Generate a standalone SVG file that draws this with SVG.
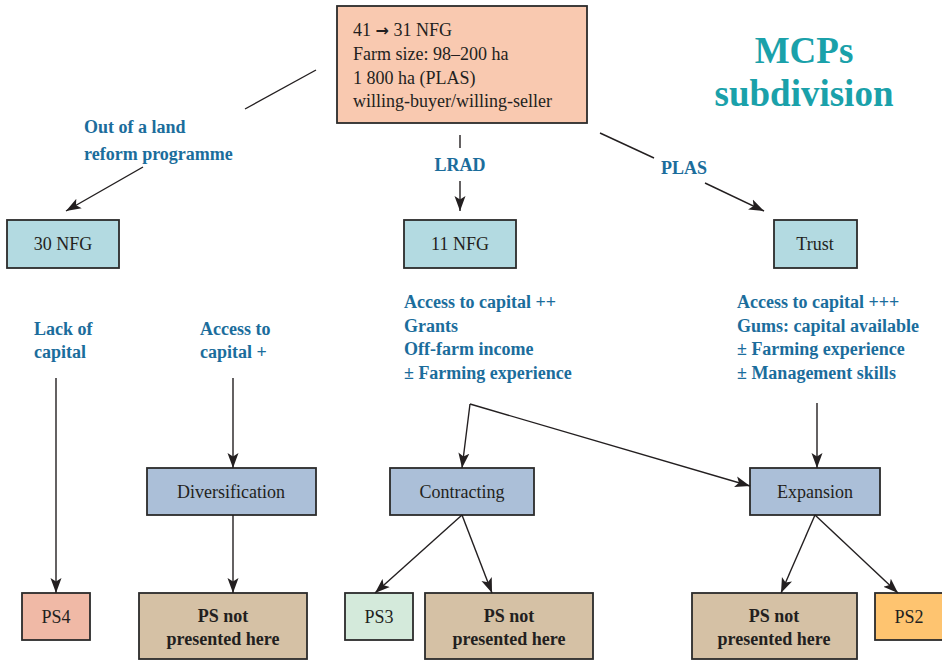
<svg xmlns="http://www.w3.org/2000/svg" width="942" height="661" viewBox="0 0 942 661">
<defs>
<marker id="ah" markerUnits="userSpaceOnUse" markerWidth="16" markerHeight="12" refX="15" refY="6" orient="auto">
<path d="M0,0.5 L15,6 L0,11.5 L3.5,6 Z" fill="#231f20"/>
</marker>
<style>
.box{stroke:#2b2b2b;stroke-width:1.8}
.bt{font-family:"Liberation Serif",serif;font-size:18px;fill:#231f20;text-anchor:middle}
.bb{font-family:"Liberation Serif",serif;font-size:18px;font-weight:bold;fill:#231f20;text-anchor:middle}
.lb{font-family:"Liberation Serif",serif;font-size:18px;font-weight:bold;fill:#1b6d9c}
.cn line{stroke:#231f20;stroke-width:1.4}
.arr{marker-end:url(#ah)}
</style>
</defs>
<rect width="942" height="661" fill="#ffffff"/>

<g id="title">
<text x="804" y="63" font-family="Liberation Serif,serif" font-size="37" font-weight="bold" fill="#1aa1aa" text-anchor="middle">MCPs</text>
<text x="804" y="106" font-family="Liberation Serif,serif" font-size="37" font-weight="bold" fill="#1aa1aa" text-anchor="middle">subdivision</text>
</g>

<g id="top">
<rect class="box" x="337" y="6" width="250" height="117" fill="#f9c9b0"/>
<text font-family="Liberation Serif,serif" font-size="18" fill="#231f20">
<tspan x="353" y="36">41 <tspan font-family="DejaVu Sans,sans-serif" font-weight="bold" font-size="16">→</tspan> 31 NFG</tspan>
<tspan x="353" y="60">Farm size: 98–200 ha</tspan>
<tspan x="353" y="84">1 800 ha (PLAS)</tspan>
<tspan x="353" y="107">willing-buyer/willing-seller</tspan>
</text>
</g>

<g id="lbl-out"><text class="lb"><tspan x="84" y="133">Out of a land</tspan><tspan x="84" y="160">reform programme</tspan></text></g>
<g id="lbl-lrad"><text class="lb" x="460" y="171" text-anchor="middle">LRAD</text></g>
<g id="lbl-plas"><text class="lb" x="684" y="174" text-anchor="middle">PLAS</text></g>

<g id="n30"><rect class="box" x="7" y="220" width="112" height="48" fill="#b3dae1"/><text class="bt" x="63" y="250">30 NFG</text></g>
<g id="n11"><rect class="box" x="404" y="220" width="112" height="48" fill="#b3dae1"/><text class="bt" x="460" y="250">11 NFG</text></g>
<g id="trust"><rect class="box" x="774" y="220" width="83" height="48" fill="#b3dae1"/><text class="bt" x="815" y="250">Trust</text></g>

<g id="lbl-lack"><text class="lb"><tspan x="34" y="335">Lack of</tspan><tspan x="34" y="358">capital</tspan></text></g>
<g id="lbl-acc1"><text class="lb"><tspan x="200" y="335">Access to</tspan><tspan x="200" y="358">capital +</tspan></text></g>
<g id="lbl-acc2"><text class="lb"><tspan x="404" y="308">Access to capital ++</tspan><tspan x="404" y="332">Grants</tspan><tspan x="404" y="355">Off-farm income</tspan><tspan x="404" y="379">± Farming experience</tspan></text></g>
<g id="lbl-acc3"><text class="lb"><tspan x="737" y="308">Access to capital +++</tspan><tspan x="737" y="332">Gums: capital available</tspan><tspan x="737" y="355">± Farming experience</tspan><tspan x="737" y="379">± Management skills</tspan></text></g>

<g id="div"><rect class="box" x="147" y="468" width="169" height="47" fill="#abbfd8"/><text class="bt" x="231" y="498">Diversification</text></g>
<g id="con"><rect class="box" x="390" y="468" width="144" height="47" fill="#abbfd8"/><text class="bt" x="462" y="498">Contracting</text></g>
<g id="exp"><rect class="box" x="750" y="468" width="130" height="47" fill="#abbfd8"/><text class="bt" x="815" y="498">Expansion</text></g>

<g id="ps4"><rect class="box" x="22" y="593" width="68" height="47" fill="#f0b9a6"/><text class="bt" x="56" y="623">PS4</text></g>
<g id="psn1"><rect class="box" x="139" y="593" width="168" height="66" fill="#d5c1a5"/><text class="bb"><tspan x="223" y="622">PS not</tspan><tspan x="223" y="645">presented here</tspan></text></g>
<g id="ps3"><rect class="box" x="345" y="593" width="68" height="47" fill="#d4eadb"/><text class="bt" x="379" y="623">PS3</text></g>
<g id="psn2"><rect class="box" x="425" y="593" width="168" height="66" fill="#d5c1a5"/><text class="bb"><tspan x="509" y="622">PS not</tspan><tspan x="509" y="645">presented here</tspan></text></g>
<g id="psn3"><rect class="box" x="692" y="593" width="165" height="66" fill="#d5c1a5"/><text class="bb"><tspan x="774" y="622">PS not</tspan><tspan x="774" y="645">presented here</tspan></text></g>
<g id="ps2"><rect class="box" x="875" y="593" width="68" height="47" fill="#fec470"/><text class="bt" x="909" y="623">PS2</text></g>

<g id="connectors" class="cn">
<line x1="316" y1="70" x2="245" y2="109"/>
<line class="arr" x1="143" y1="167" x2="66" y2="211"/>
<line x1="460" y1="135" x2="460" y2="148"/>
<line class="arr" x1="460" y1="181" x2="460" y2="211"/>
<line x1="600" y1="133" x2="654" y2="158"/>
<line class="arr" x1="705" y1="183" x2="764" y2="211"/>
<line class="arr" x1="56" y1="378" x2="56" y2="593"/>
<line class="arr" x1="233" y1="378" x2="233" y2="468"/>
<line class="arr" x1="233" y1="515" x2="233" y2="593"/>
<line class="arr" x1="470" y1="404" x2="462" y2="468"/>
<line class="arr" x1="470" y1="404" x2="750" y2="486"/>
<line class="arr" x1="817" y1="403" x2="817" y2="468"/>
<line class="arr" x1="462" y1="515" x2="375" y2="593"/>
<line class="arr" x1="462" y1="515" x2="492" y2="593"/>
<line class="arr" x1="815" y1="515" x2="781" y2="593"/>
<line class="arr" x1="815" y1="515" x2="898" y2="593"/>
</g>
</svg>
